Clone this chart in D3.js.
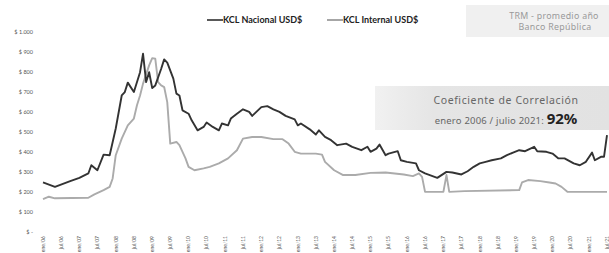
<!DOCTYPE html>
<html>
<head>
<meta charset="utf-8">
<script src="https://cdn.jsdelivr.net/npm/d3@7"></script>
<style>
  html, body { margin: 0; padding: 0; background: #fff; }
  svg { display: block; }
</style>
</head>
<body>
<svg id="chart" width="609" height="253"></svg>
<script>
// Datos (USD$ / tonelada)
const nacionalFechas = ["2006-01","2006-05","2006-10","2007-01","2007-04","2007-05","2007-07","2007-09","2007-11","2008-01","2008-03","2008-04","2008-05","2008-07","2008-09","2008-10","2008-11","2008-12","2009-01","2009-02","2009-04","2009-05","2009-06","2009-08","2009-09","2009-10","2009-11","2010-01","2010-02","2010-04","2010-06","2010-07","2010-09","2010-11","2010-12","2011-02","2011-03","2011-05","2011-07","2011-09","2011-10","2012-01","2012-03","2012-05","2012-07","2012-09","2012-12","2013-01","2013-02","2013-05","2013-07","2013-08","2013-10","2013-12","2014-02","2014-05","2014-07","2014-10","2014-12","2015-01","2015-03","2015-04","2015-06","2015-07","2015-10","2015-11","2016-01","2016-04","2016-05","2016-07","2016-11","2017-02","2017-04","2017-07","2017-09","2017-11","2018-01","2018-03","2018-05","2018-08","2018-10","2018-12","2019-02","2019-04","2019-07","2019-08","2019-11","2020-01","2020-03","2020-05","2020-08","2020-10","2020-12","2021-02","2021-03","2021-05","2021-06","2021-07"];
const nacionalValores = [247,225,254,270,292,333,308,386,383,516,681,698,745,698,797,889,748,797,718,731,814,861,845,765,690,681,607,590,557,507,524,546,524,507,541,532,566,590,612,599,579,623,628,612,599,579,562,532,541,512,486,507,474,458,433,441,425,408,425,400,416,436,383,391,403,358,350,342,308,292,270,300,297,287,303,325,342,350,358,367,383,396,408,403,425,403,400,391,367,367,342,333,350,396,358,375,375,483];

const internalFechas = ["2006-01","2006-03","2006-05","2007-04","2007-06","2007-09","2007-11","2007-12","2008-01","2008-03","2008-05","2008-07","2008-08","2008-09","2008-10","2008-12","2009-01","2009-02","2009-03","2009-04","2009-05","2009-06","2009-07","2009-09","2009-10","2009-12","2010-01","2010-03","2010-06","2010-08","2010-11","2011-02","2011-05","2011-07","2011-10","2012-01","2012-05","2012-08","2012-10","2012-12","2013-02","2013-07","2013-09","2013-10","2014-01","2014-04","2014-08","2015-01","2015-06","2015-12","2016-03","2016-05","2016-06","2016-07","2016-12","2017-01","2017-02","2017-03","2017-08","2019-02","2019-03","2019-05","2019-09","2019-12","2020-02","2020-04","2020-06","2021-07"];
const internalValores = [164,176,168,171,188,209,225,267,383,466,532,566,632,681,740,831,867,864,748,731,723,648,441,449,433,367,325,308,317,325,342,367,408,466,474,474,463,463,441,400,391,391,386,350,308,284,284,295,297,287,279,292,275,200,200,200,284,200,204,209,247,259,254,247,242,225,200,200];

const yTicks = [0,100,200,300,400,500,600,700,800,900,1000];
const meses = ["ene","jul"];
const series = [
  { nombre: "KCL Nacional USD$", fechas: nacionalFechas, valores: nacionalValores, color: "#333333" },
  { nombre: "KCL Internal USD$", fechas: internalFechas, valores: internalValores, color: "#ababab" }
];

const svg = d3.select("#chart");
const parse = d3.timeParse("%Y-%m");

// Escalas
const x = d3.scaleTime()
  .domain([parse("2006-01"), parse("2021-07")])
  .range([43, 607]);
const y = d3.scaleLinear().domain([0, 1000]).range([232, 31.5]);

// Cajas grises
const defs = svg.append("defs");
const grad = defs.append("linearGradient").attr("id", "gcaja");
grad.append("stop").attr("offset", "0%").attr("stop-color", "#f1f1f1");
grad.append("stop").attr("offset", "25%").attr("stop-color", "#e5e5e5");
grad.append("stop").attr("offset", "100%").attr("stop-color", "#e2e2e2");

svg.append("rect").attr("x", 466).attr("y", 5).attr("width", 143).attr("height", 32)
  .attr("fill", "#f0f0f0");
svg.append("rect").attr("x", 375).attr("y", 86).attr("width", 234).attr("height", 44)
  .attr("fill", "url(#gcaja)");

// Eje Y
const fmtY = d => d === 0 ? "$ -" : "$ " + d3.format(",")(d).replace(",", ".");
svg.append("g")
  .selectAll("text")
  .data(yTicks)
  .join("text")
  .attr("x", 33)
  .attr("y", d => y(d) + 2)
  .attr("text-anchor", "end")
  .attr("font-family", "Lato, sans-serif")
  .attr("font-size", 5.5)
  .attr("fill", "#555")
  .text(fmtY);

// Eje X (semestral, rotado)
const xTicks = d3.timeMonth.every(6).range(parse("2006-01"), d3.timeMonth.offset(parse("2021-07"), 1));
svg.append("g")
  .selectAll("text")
  .data(xTicks)
  .join("text")
  .attr("transform", d => `translate(${x(d) + 1.8},236) rotate(-90)`)
  .attr("text-anchor", "end")
  .attr("font-family", "Lato, sans-serif")
  .attr("font-size", 5)
  .attr("fill", "#555")
  .text(d => meses[d.getMonth() === 0 ? 0 : 1] + "/" + d3.timeFormat("%y")(d));

// Líneas
const line = d3.line()
  .x(d => x(d.fecha))
  .y(d => y(d.valor));

series.slice().reverse().forEach(s => {
  const puntos = s.fechas.map((f, i) => ({ fecha: parse(f), valor: s.valores[i] }));
  svg.append("path")
    .datum(puntos)
    .attr("fill", "none")
    .attr("stroke", s.color)
    .attr("stroke-width", 1.9)
    .attr("stroke-linejoin", "round")
    .attr("d", line);
});

// Leyenda
const leyX = [207, 327];
series.forEach((s, i) => {
  const g = svg.append("g").attr("transform", `translate(${leyX[i]},20)`);
  g.append("line").attr("x1", 0).attr("x2", 16).attr("y1", 0).attr("y2", 0)
    .attr("stroke", s.color === "#ababab" ? "#888" : "#222").attr("stroke-width", 1.5);
  g.append("text").attr("x", 16).attr("y", 3.3)
    .attr("font-family", "Lato, sans-serif")
    .attr("font-weight", "bold")
    .attr("font-size", 9)
    .attr("fill", "#222")
    .text(s.nombre);
});

// Anotaciones
const nota = svg.append("g")
  .attr("font-family", "'Noto Sans', sans-serif")
  .attr("fill", "#999")
  .attr("font-size", 8.8)
  .attr("letter-spacing", 0.3)
  .attr("text-anchor", "middle");
nota.append("text").attr("x", 554).attr("y", 19).text("TRM - promedio año");
nota.append("text").attr("x", 555).attr("y", 29.5).text("Banco República");

svg.append("text")
  .attr("x", 506).attr("y", 104)
  .attr("text-anchor", "middle")
  .attr("font-family", "'Noto Sans', sans-serif")
  .attr("font-size", 10.5)
  .attr("letter-spacing", 0.6)
  .attr("fill", "#666")
  .text("Coeficiente de Correlación");

const corr = svg.append("text")
  .attr("x", 506).attr("y", 124)
  .attr("text-anchor", "middle")
  .attr("font-family", "'Noto Sans', sans-serif");
corr.append("tspan").attr("font-size", 9.5).attr("letter-spacing", 0.2).attr("fill", "#666").text("enero 2006 / julio 2021: ");
corr.append("tspan").attr("font-size", 15).attr("font-weight", "bold").attr("fill", "#222").text("92%");
</script>
</body>
</html>
